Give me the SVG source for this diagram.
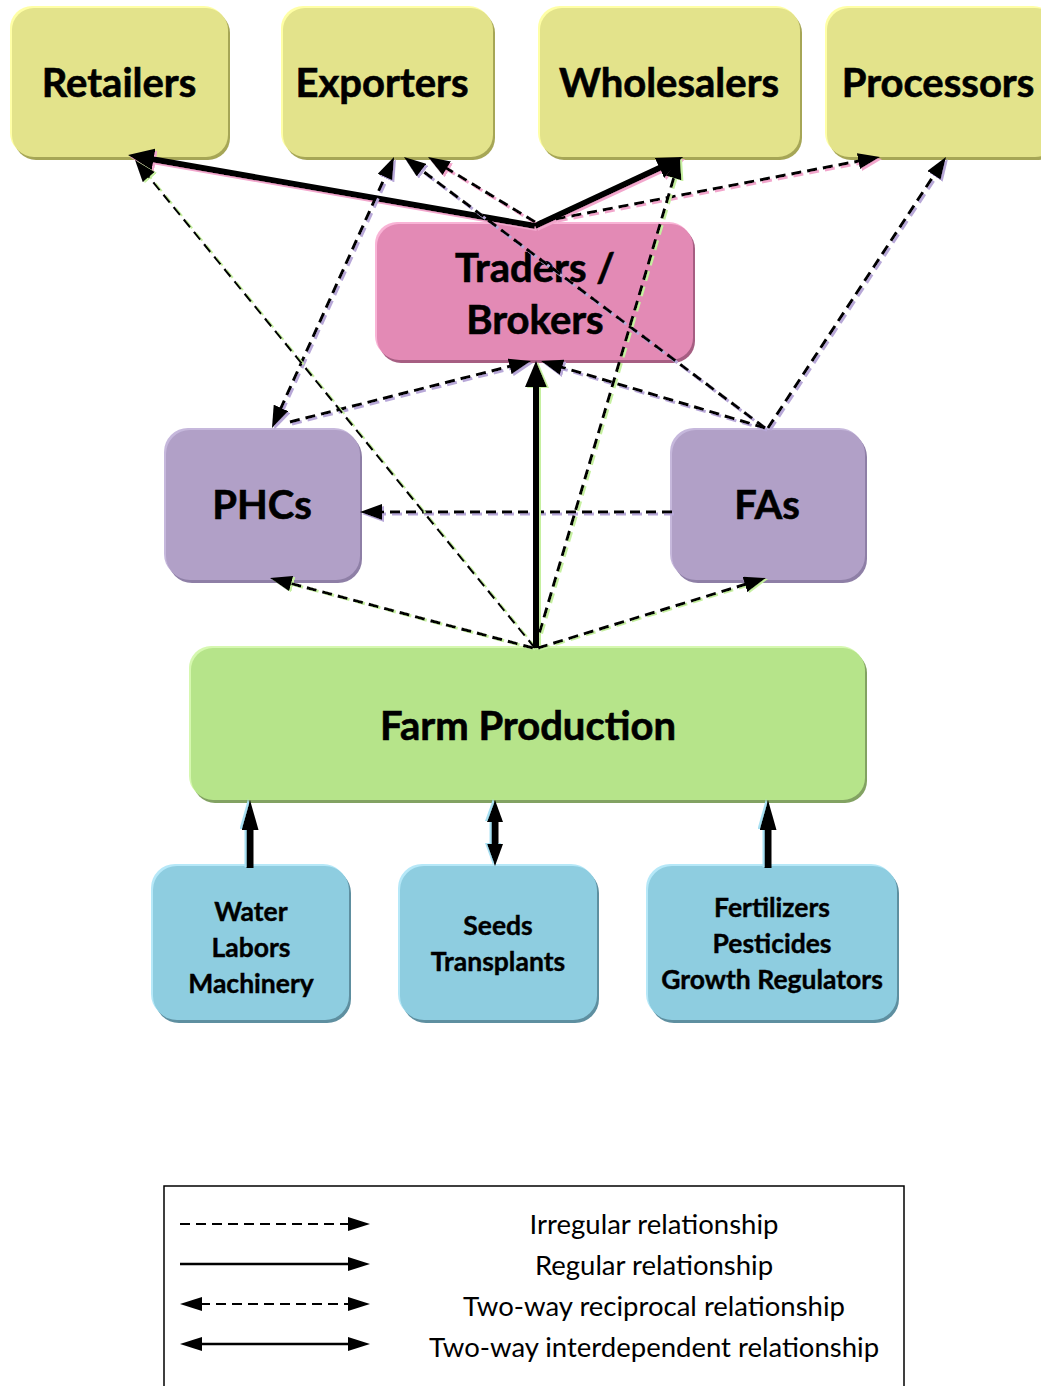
<svg xmlns="http://www.w3.org/2000/svg" width="1041" height="1386" viewBox="0 0 1041 1386">
<style>
.t{font-family:Lato,"Open Sans","Liberation Sans",sans-serif;font-weight:700;fill:#000;stroke:#000;stroke-width:0.6;text-anchor:middle}
.big{font-size:40px}
.sm{font-size:26.5px;stroke-width:0.4}
.lg{font-family:Lato,"Open Sans","Liberation Sans",sans-serif;font-size:27.5px;fill:#000;text-anchor:middle}
.d{fill:none;stroke:#000;stroke-width:3;stroke-dasharray:10 6}
.s{fill:none;stroke:#000;stroke-width:6}
.b{fill:none;stroke:#000;stroke-width:7}
.ld{fill:none;stroke:#000;stroke-width:2;stroke-dasharray:10 6}
.ls{fill:none;stroke:#000;stroke-width:2.5}
.y .m{fill:#E3E38B}.y .h{fill:#FFFFA6}.y .k{fill:#A6A656}
.p .m{fill:#E38AB5}.p .h{fill:#F9B4D6}.p .k{fill:#A65E82}
.v .m{fill:#B1A0C7}.v .h{fill:#C6B8DC}.v .k{fill:#8E7FA6}
.g .m{fill:#B6E48A}.g .h{fill:#D6F8B0}.g .k{fill:#82A262}
.c .m{fill:#8ECDE0}.c .h{fill:#B6E8F8}.c .k{fill:#5E8FA0}
</style>
<defs>
<marker id="ad" markerUnits="userSpaceOnUse" markerWidth="22" markerHeight="16" refX="2" refY="8" orient="auto-start-reverse"><path d="M0,0 L22,8 L0,16 z" fill="#000"/></marker>
<marker id="as" markerUnits="userSpaceOnUse" markerWidth="26" markerHeight="22" refX="3" refY="11" orient="auto-start-reverse"><path d="M0,0 L26,11 L0,22 z" fill="#000"/></marker>
<marker id="ab" markerUnits="userSpaceOnUse" markerWidth="30" markerHeight="17" refX="3" refY="8.5" orient="auto-start-reverse"><path d="M0,0 L30,8.5 L0,17 z" fill="#000"/></marker>
<marker id="ab2" markerUnits="userSpaceOnUse" markerWidth="22" markerHeight="16" refX="3" refY="8" orient="auto-start-reverse"><path d="M0,0 L22,8 L0,16 z" fill="#000"/></marker>
<marker id="al" markerUnits="userSpaceOnUse" markerWidth="22" markerHeight="14" refX="2" refY="7" orient="auto-start-reverse"><path d="M0,0 L22,7 L0,14 z" fill="#000"/></marker>
<filter id="fP" filterUnits="userSpaceOnUse" x="0" y="0" width="1041" height="1386"><feDropShadow dx="2" dy="2" stdDeviation="0" flood-color="#F2A6CC" flood-opacity="1"/></filter>
<filter id="fV" filterUnits="userSpaceOnUse" x="0" y="0" width="1041" height="1386"><feDropShadow dx="2" dy="2" stdDeviation="0" flood-color="#B8A8D8" flood-opacity="1"/></filter>
<filter id="fG" filterUnits="userSpaceOnUse" x="0" y="0" width="1041" height="1386"><feDropShadow dx="2" dy="1" stdDeviation="0" flood-color="#C6F0A0" flood-opacity="1"/></filter>
<filter id="fC" filterUnits="userSpaceOnUse" x="0" y="0" width="1041" height="1386"><feDropShadow dx="-2" dy="-1" stdDeviation="0" flood-color="#A8E0F2" flood-opacity="1"/></filter>
</defs>
<rect width="1041" height="1386" fill="#fff"/>

<g id="retailers" class="y">
<rect class="k" x="14" y="11" width="216" height="149" rx="22"/>
<rect class="h" x="10" y="6" width="216" height="149" rx="22"/>
<rect class="m" x="12" y="8" width="216" height="149" rx="22"/>
<text class="t big" x="119" y="97">Retailers</text>
</g>
<g id="exporters" class="y">
<rect class="k" x="285" y="11" width="210" height="149" rx="22"/>
<rect class="h" x="281" y="6" width="210" height="149" rx="22"/>
<rect class="m" x="283" y="8" width="210" height="149" rx="22"/>
<text class="t big" x="382" y="97">Exporters</text>
</g>
<g id="wholesalers" class="y">
<rect class="k" x="542" y="11" width="260" height="149" rx="22"/>
<rect class="h" x="538" y="6" width="260" height="149" rx="22"/>
<rect class="m" x="540" y="8" width="260" height="149" rx="22"/>
<text class="t big" x="669" y="97">Wholesalers</text>
</g>
<g id="processors" class="y">
<rect class="k" x="829" y="11" width="230" height="149" rx="22"/>
<rect class="h" x="825" y="6" width="230" height="149" rx="22"/>
<rect class="m" x="827" y="8" width="230" height="149" rx="22"/>
<text class="t big" x="938" y="97">Processors</text>
</g>
<g id="traders" class="p">
<rect class="k" x="379" y="227" width="316" height="136" rx="22"/>
<rect class="h" x="375" y="222" width="316" height="136" rx="22"/>
<rect class="m" x="377" y="224" width="316" height="136" rx="22"/>
<text class="t big" x="535" y="282">Traders /</text>
<text class="t big" x="535" y="334">Brokers</text>
</g>
<g id="phcs" class="v">
<rect class="k" x="168" y="433" width="194" height="150" rx="24"/>
<rect class="h" x="164" y="428" width="194" height="150" rx="24"/>
<rect class="m" x="166" y="430" width="194" height="150" rx="24"/>
<text class="t big" x="262" y="519">PHCs</text>
</g>
<g id="fas" class="v">
<rect class="k" x="674" y="433" width="193" height="150" rx="24"/>
<rect class="h" x="670" y="428" width="193" height="150" rx="24"/>
<rect class="m" x="672" y="430" width="193" height="150" rx="24"/>
<text class="t big" x="767" y="519">FAs</text>
</g>
<g id="farm" class="g">
<rect class="k" x="193" y="651" width="674" height="152" rx="22"/>
<rect class="h" x="189" y="646" width="674" height="152" rx="22"/>
<rect class="m" x="191" y="648" width="674" height="152" rx="22"/>
<text class="t big" x="528" y="740">Farm Production</text>
</g>
<g id="water" class="c">
<rect class="k" x="155" y="869" width="196" height="154" rx="24"/>
<rect class="h" x="151" y="864" width="196" height="154" rx="24"/>
<rect class="m" x="153" y="866" width="196" height="154" rx="24"/>
<text class="t sm" x="251" y="921">Water</text>
<text class="t sm" x="251" y="957">Labors</text>
<text class="t sm" x="251" y="993">Machinery</text>
</g>
<g id="seeds" class="c">
<rect class="k" x="402" y="869" width="197" height="154" rx="24"/>
<rect class="h" x="398" y="864" width="197" height="154" rx="24"/>
<rect class="m" x="400" y="866" width="197" height="154" rx="24"/>
<text class="t sm" x="498" y="935">Seeds</text>
<text class="t sm" x="498" y="971">Transplants</text>
</g>
<g id="fertilizers" class="c">
<rect class="k" x="650" y="869" width="249" height="154" rx="24"/>
<rect class="h" x="646" y="864" width="249" height="154" rx="24"/>
<rect class="m" x="648" y="866" width="249" height="154" rx="24"/>
<text class="t sm" x="772" y="917">Fertilizers</text>
<text class="t sm" x="772" y="953">Pesticides</text>
<text class="t sm" x="772" y="989">Growth Regulators</text>
</g>

<g id="connectors">
<g filter="url(#fP)">
<path class="s" d="M535,226 L150.7,159" marker-end="url(#as)"/>
<path class="s" d="M535,226 L662.2,166.7" marker-end="url(#as)"/>
<path class="d" d="M535,222 L445.1,167.4" marker-end="url(#ad)"/>
<path class="d" d="M540,222 L860.4,160.8" marker-end="url(#ad)"/>
</g>
<g filter="url(#fV)">
<path class="d" d="M280.2,409.8 L385.8,175.2" marker-start="url(#ad)" marker-end="url(#ad)"/>
<path class="d" d="M290,422 L511.6,365.9" marker-end="url(#ad)"/>
<path class="d" d="M765,428 L560.2,366.7" marker-end="url(#ad)"/>
<path class="d" d="M765,428 L420,169" marker-end="url(#ad)"/>
<path class="d" d="M768,428 L935,173.7" marker-end="url(#ad)"/>
<path class="d" d="M672,512 L380,512" marker-end="url(#ad)"/>
</g>
<g filter="url(#fG)">
<path class="d" style="stroke-width:2.2" d="M535,648 L147.7,175.5" marker-end="url(#ad)"/>
<path class="d" d="M535,648 L674.3,176.2" marker-end="url(#ad)"/>
<path class="s" d="M536,648 L536,384" marker-end="url(#as)"/>
<path class="d" d="M533,648 L289.3,583.1" marker-end="url(#ad)"/>
<path class="d" d="M538,648 L746.9,583.9" marker-end="url(#ad)"/>
</g>
<g filter="url(#fC)">
<path class="b" d="M250,868 L250,827" marker-end="url(#ab)"/>
<path class="b" d="M495,847 L495,819" marker-start="url(#ab2)" marker-end="url(#ab2)"/>
<path class="b" d="M768,868 L768,827" marker-end="url(#ab)"/>
</g>
</g>

<g id="legend">
<rect x="164" y="1186" width="740" height="210" fill="none" stroke="#000" stroke-width="1.5"/>
<path class="ld" d="M180,1224 L350,1224" marker-end="url(#al)"/>
<path class="ls" d="M180,1264 L350,1264" marker-end="url(#al)"/>
<path class="ld" d="M200,1304 L350,1304" marker-start="url(#al)" marker-end="url(#al)"/>
<path class="ls" d="M200,1344 L350,1344" marker-start="url(#al)" marker-end="url(#al)"/>
<text class="lg" x="654" y="1234">Irregular relationship</text>
<text class="lg" x="654" y="1275">Regular relationship</text>
<text class="lg" x="654" y="1316">Two-way reciprocal relationship</text>
<text class="lg" x="654" y="1357">Two-way interdependent relationship</text>
</g>
</svg>
